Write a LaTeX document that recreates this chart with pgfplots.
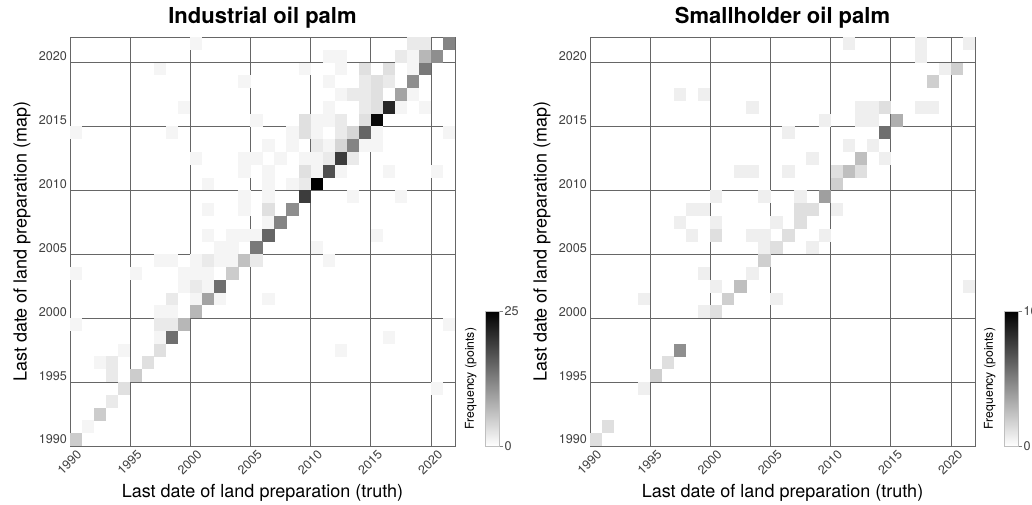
\documentclass[border=0pt]{standalone}
\usepackage{fontspec}
\setmainfont{TeX Gyre Heros}
\usepackage{pgfplots}
\usepackage{pgfplotstable}
\pgfplotsset{compat=1.18}

% counts of points: x = truth year, y = map year, c = frequency
\pgfplotstableread{
x y c
2000 2021 1
2018 2021 2
2019 2021 2
2021 2021 12
2011 2020 1
2012 2020 1
2017 2020 2
2018 2020 1
2019 2020 7
2020 2020 11
1997 2019 1
2009 2019 1
2012 2019 1
2014 2019 3
2016 2019 3
2018 2019 1
2019 2019 13
2004 2018 1
2011 2018 1
2014 2018 2
2015 2018 3
2016 2018 2
2018 2018 11
2012 2017 1
2013 2017 2
2014 2017 2
2015 2017 3
2017 2017 9
2018 2017 1
1999 2016 1
2011 2016 1
2014 2016 2
2015 2016 3
2016 2016 21
2017 2016 1
2019 2016 1
2005 2015 1
2009 2015 3
2010 2015 1
2011 2015 1
2012 2015 2
2014 2015 3
2015 2015 24
1990 2014 1
1998 2014 1
2008 2014 1
2009 2014 3
2010 2014 1
2012 2014 2
2013 2014 4
2014 2014 15
2015 2014 1
2021 2014 1
2006 2013 1
2008 2013 1
2010 2013 2
2011 2013 1
2012 2013 4
2013 2013 12
2014 2013 1
2015 2013 1
2000 2012 1
2004 2012 1
2005 2012 1
2007 2012 1
2009 2012 1
2010 2012 1
2011 2012 2
2012 2012 19
2013 2012 2
2004 2011 1
2006 2011 1
2009 2011 3
2010 2011 1
2011 2011 17
2012 2011 1
2016 2011 1
2020 2011 1
2001 2010 1
2006 2010 1
2008 2010 1
2009 2010 2
2010 2010 25
2004 2009 1
2006 2009 1
2009 2009 19
2013 2009 1
2017 2009 1
2001 2008 1
2004 2008 1
2006 2008 3
2008 2008 11
2006 2007 1
2007 2007 12
2001 2006 1
2003 2006 1
2004 2006 1
2005 2006 1
2006 2006 15
2015 2006 1
2002 2005 1
2003 2005 1
2005 2005 13
2010 2005 1
1997 2004 1
1998 2004 1
2000 2004 1
2001 2004 2
2002 2004 1
2003 2004 1
2004 2004 6
2005 2004 2
2011 2004 1
1990 2003 1
1995 2003 1
1999 2003 1
2000 2003 1
2001 2003 1
2003 2003 5
1999 2002 1
2000 2002 2
2001 2002 1
2002 2002 14
1998 2001 2
2000 2001 1
2001 2001 9
2002 2001 1
2006 2001 1
1997 2000 1
1998 2000 1
2000 2000 7
1990 1999 1
1997 1999 2
1998 1999 2
1999 1999 7
2021 1999 1
1997 1998 1
1998 1998 14
2016 1998 1
1994 1997 1
1997 1997 3
2012 1997 1
1992 1996 1
1993 1996 2
1996 1996 3
1993 1995 2
1995 1995 5
1994 1994 3
2020 1994 1
1993 1993 2
1992 1992 5
1991 1991 1
1990 1990 5
}\industrial

\pgfplotstableread{
x y c
2011 2021 1
2017 2021 1
2021 2021 1
2017 2020 1
2019 2019 1
2020 2019 3
2018 2018 3
1997 2017 1
1999 2017 1
2003 2016 1
2012 2016 1
2013 2016 1
2014 2016 2
2017 2016 1
2018 2016 1
2009 2015 1
2012 2015 1
2013 2015 1
2015 2015 5
2006 2014 1
2014 2014 9
2011 2013 1
2013 2013 1
2008 2012 1
2012 2012 4
2014 2012 1
2002 2011 1
2003 2011 1
2006 2011 1
2010 2011 2
2011 2011 4
2012 2011 2
2010 2010 3
2000 2009 1
2004 2009 1
2007 2009 1
2009 2009 6
1998 2008 1
1999 2008 1
2007 2008 2
2008 2008 2
2010 2008 1
1997 2007 1
2000 2007 1
2005 2007 1
2007 2007 2
1998 2006 1
2000 2006 2
2003 2006 1
2004 2006 1
2006 2006 2
2009 2006 1
2004 2005 1
2005 2005 2
2008 2005 1
2004 2004 3
1999 2003 1
2003 2003 1
2000 2002 1
2002 2002 4
2021 2002 1
1994 2001 1
2001 2001 3
2005 2001 1
1999 2000 1
2000 2000 2
1997 1997 7
1996 1996 2
1995 1995 3
1994 1994 1
1991 1991 2
1990 1990 2
}\smallholder

% one tile of the 32 x 32 year grid
\pgfdeclareplotmark{tile}{%
  \pgfpathrectangle{\pgfpoint{-6.1pt}{-6.45pt}}{\pgfpoint{12.2pt}{12.9pt}}%
  \pgfusepathqfill}

\newcommand\tickfont{\fontsize{12.6}{14}\selectfont}

\pgfplotsset{
  heat/.style={
    width=385pt, height=409pt, scale only axis,
    xmin=1989.5, xmax=2021.5, ymin=1989.5, ymax=2021.5,
    axis on top,
    axis line style={black!60, line width=0.8pt},
    major tick length=0pt,
    xtick={1990,1995,2000,2005,2010,2015,2020},
    ytick={1990,1995,2000,2005,2010,2015,2020},
    xticklabels={1990,1995,2000,2005,2010,2015,2020},
    yticklabels={1990,1995,2000,2005,2010,2015,2020},
    extra x ticks={1994.5,1999.5,2004.5,2009.5,2014.5,2019.5},
    extra y ticks={1994.5,1999.5,2004.5,2009.5,2014.5,2019.5},
    extra x tick labels={}, extra y tick labels={},
    extra tick style={grid=major, major tick length=0pt},
    major grid style={black!60, line width=0.8pt},
    tick label style={font=\tickfont, text=black!75},
    xticklabel style={rotate=45, anchor=north east, inner sep=2pt},
    yticklabel style={inner sep=3pt},
    xlabel={Last date of land preparation (truth)},
    ylabel={Last date of land preparation (map)},
    label style={font=\fontsize{18}{20}\selectfont},
    xlabel style={at={(axis description cs:0.5,-0.1149)}, anchor=center},
    ylabel style={at={(axis description cs:-0.1247,0.5)}, anchor=center},
    title style={at={(axis description cs:0.5,1.032)}, anchor=center,
      font=\bfseries\fontsize{22}{24}\selectfont},
    colormap={bw}{rgb255(0cm)=(255,255,255); rgb255(1cm)=(0,0,0)},
    point meta min=0,
    colorbar right,
  },
  bar/.style={
    anchor=south west, width=14pt, height=135pt,
    axis line style={black!25, line width=0.4pt},
    ytick pos=right, yticklabel pos=right,
    tick align=outside, major tick length=4pt,
    tick style={black!50, line width=0.6pt},
    yticklabel style={text=black!75, inner sep=1.5pt},
    ylabel={\fontsize{12.2}{14}\selectfont Frequency (points)},
    ylabel style={at={(axis description cs:-0.35,0.5)}, anchor=south},
  },
}

\begin{document}
\begin{tikzpicture}
\useasboundingbox (0,0) rectangle (1032pt,504pt);

\begin{axis}[heat, at={(70pt,58pt)}, anchor=south west,
  title={Industrial oil palm},
  point meta max=25,
  colorbar style={bar, at={(1.078,0)}, ytick={0,25},
    yticklabels={{\tickfont 0},{\tickfont 25}}}]
  \addplot[scatter, only marks, mark=tile, point meta=explicit]
    table[x=x, y=y, meta=c] {\industrial};
\end{axis}

\begin{axis}[heat, at={(590pt,58pt)}, anchor=south west,
  title={Smallholder oil palm},
  point meta max=16,
  colorbar style={bar, at={(1.0753,0)}, ytick={0,16},
    yticklabels={{\tickfont 0},{\tickfont 16}}}]
  \addplot[scatter, only marks, mark=tile, point meta=explicit]
    table[x=x, y=y, meta=c] {\smallholder};
\end{axis}
\end{tikzpicture}
\end{document}
